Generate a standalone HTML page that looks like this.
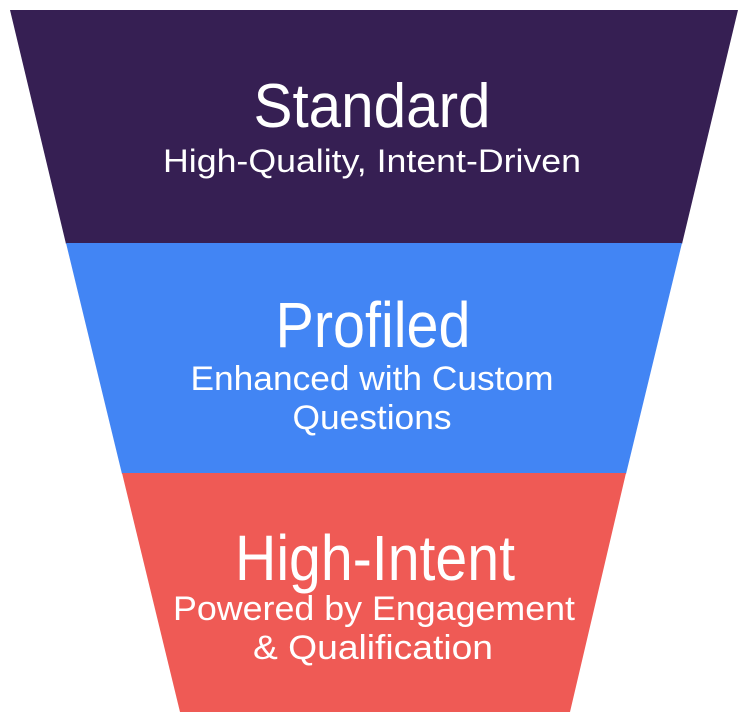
<!DOCTYPE html>
<html><head><style>
html,body{margin:0;padding:0;background:#fff;}
svg{display:block;}
text{font-family:"Liberation Sans",sans-serif;fill:#fff;text-anchor:middle;}
</style></head><body>
<svg width="750" height="725" viewBox="0 0 750 725">
<polygon points="10,10 738,10 682,244 66,244" fill="#361f53"/>
<polygon points="66,243 682,243 626,474 122,474" fill="#4285f4"/>
<polygon points="122,473 626,473 570,712 180,712" fill="#ef5a55"/>
<text x="372" y="127" font-size="62" textLength="237" lengthAdjust="spacingAndGlyphs">Standard</text>
<text x="372" y="172" font-size="32" textLength="418" lengthAdjust="spacingAndGlyphs">High-Quality, Intent-Driven</text>
<text x="373" y="347" font-size="64" textLength="195" lengthAdjust="spacingAndGlyphs">Profiled</text>
<text x="372" y="390" font-size="34" textLength="363" lengthAdjust="spacingAndGlyphs">Enhanced with Custom</text>
<text x="372" y="429" font-size="34" textLength="159" lengthAdjust="spacingAndGlyphs">Questions</text>
<text x="375" y="580" font-size="64" textLength="280" lengthAdjust="spacingAndGlyphs">High-Intent</text>
<text x="374" y="620" font-size="34" textLength="402" lengthAdjust="spacingAndGlyphs">Powered by Engagement</text>
<text x="373" y="659" font-size="34" textLength="240" lengthAdjust="spacingAndGlyphs">&amp; Qualification</text>
</svg>
</body></html>
